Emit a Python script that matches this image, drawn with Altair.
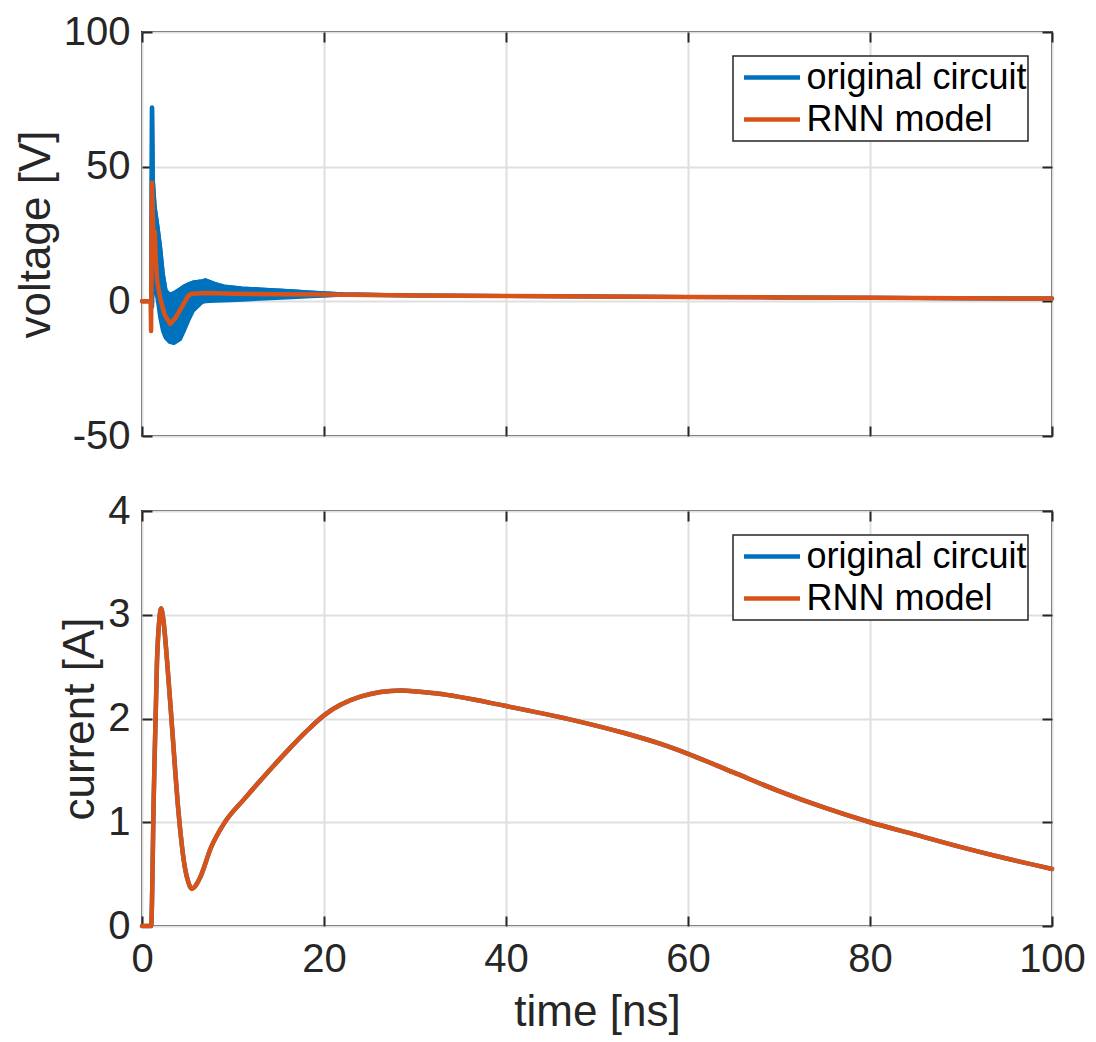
import altair as alt
import pandas as pd

# ---------------- data ----------------
# top panel: RNN model voltage
t_rnn_v = [0, 0.95, 1.0, 1.1, 1.2, 1.3, 1.4, 1.5, 1.65, 2.0, 2.5, 3.1, 3.7, 4.4, 5.1, 5.5, 7.0,
           10, 15, 20, 30, 40, 50, 60, 70, 80, 90, 100]
v_rnn = [0, 0, -11, 44, 30, 22, 26, 16, 8, 1, -5, -8.4, -6, -2, 2.2, 2.8, 3.1,
         2.8, 2.6, 2.5, 2.2, 2.0, 1.8, 1.6, 1.45, 1.3, 1.15, 1.05]

# top panel: original circuit voltage (fast ringing shown by its envelope)
t_orig_v = [0, 1.0, 1.08, 1.12, 1.2, 1.4, 1.7, 2.0, 2.3, 2.6, 3.0, 3.5, 4.2, 4.6, 5.1, 5.6,
            6.6, 7.0, 8.0, 9.0, 11, 13, 16.5, 18.5, 20, 22, 30, 40, 50, 60, 70, 80, 90, 100]
v_orig_upper = [0, 0, 72, 72, 45, 35, 28, 20, 10, 4, 2.5, 3, 4.5, 5.5, 6.3, 7,
                7.5, 7.8, 6.5, 5.5, 4.8, 4.4, 3.7, 3.3, 3.0, 2.6, 2.2, 2.0, 1.8, 1.6, 1.45, 1.3, 1.15, 1.05]
v_orig_lower = [0, 0, -2, -2, 6, 6, 1, -6, -11, -13.5, -15, -15.5, -14, -11, -7, -3.5,
                -0.3, 0, 0.2, 0.3, 0.6, 1.0, 1.5, 1.9, 2.1, 2.4, 2.2, 2.0, 1.8, 1.6, 1.45, 1.3, 1.15, 1.05]

# bottom panel: current (both curves coincide)
t_cur = [0, 1.0, 1.3, 1.65, 1.9, 2.1, 2.35, 2.75, 3.3, 4.0, 4.7, 5.1, 5.45, 5.9, 6.4, 7.6, 9.1,
         11.3, 13.8, 16.0, 18.0, 20, 24, 28.4, 32.4, 40, 47.6, 53, 57, 60, 65, 70,
         75, 80, 85, 90, 95, 100]
i_orig = [0, 0, 1.28, 2.56, 2.95, 3.06, 2.95, 2.56, 1.92, 1.11, 0.57, 0.42, 0.36, 0.39, 0.47,
          0.76, 1.0, 1.23, 1.48, 1.69, 1.87, 2.03, 2.21, 2.27, 2.24, 2.12, 1.98, 1.86, 1.755, 1.66,
          1.48, 1.30, 1.14, 1.0, 0.88, 0.76, 0.65, 0.55]
i_rnn = list(i_orig)

x_ticks = [0, 20, 40, 60, 80, 100]
v_ticks = [-50, 0, 50, 100]
i_ticks = [0, 1, 2, 3, 4]
series_names = ["original circuit", "RNN model"]
series_colors = ["#0072BD", "#D95319"]

TXT = "#262626"
FONT = "Liberation Sans"
TICK_IN = 10
PLOT_W = 910
LABEL_EXPR = "'' + datum.value"   # plain hyphen minus, as in the reference

# ---------------- tables ----------------
df_env = pd.DataFrame({"t": t_orig_v, "hi": v_orig_upper, "lo": v_orig_lower,
                       "series": series_names[0]})
df_vo = pd.DataFrame({"t": t_orig_v, "v": v_orig_upper, "series": series_names[0]})
df_vr = pd.DataFrame({"t": t_rnn_v, "v": v_rnn, "series": series_names[1]})
df_io = pd.DataFrame({"t": t_cur, "v": i_orig, "series": series_names[0]})
df_ir = pd.DataFrame({"t": t_cur, "v": i_rnn, "series": series_names[1]})


def color_enc():
    return alt.Color(
        "series:N",
        scale=alt.Scale(domain=series_names, range=series_colors),
        legend=alt.Legend(title=None, orient="top-right", offset=24),
    )


def main_x(show_labels):
    if show_labels:
        return alt.Axis(orient="bottom", values=x_ticks, offset=-TICK_IN, tickSize=TICK_IN,
                        labelPadding=13, labelFlush=False, grid=True, titlePadding=11,
                        labelExpr=LABEL_EXPR)
    return alt.Axis(orient="bottom", values=x_ticks, offset=-TICK_IN, tickSize=TICK_IN,
                    labels=False, grid=True)


def main_y(vals):
    return alt.Axis(orient="left", values=vals, offset=-TICK_IN, tickSize=TICK_IN,
                    labelPadding=12, grid=True, titlePadding=5, labelExpr=LABEL_EXPR)


def top_x():
    return alt.Axis(orient="top", values=x_ticks, offset=-TICK_IN, tickSize=TICK_IN,
                    labels=False, grid=False)


def right_y(vals):
    return alt.Axis(orient="right", values=vals, offset=-TICK_IN, tickSize=TICK_IN,
                    labels=False, grid=False)


xs = alt.Scale(domain=[0, 100], nice=False, zero=False)
ys_v = alt.Scale(domain=[-50, 100], nice=False, zero=False)
ys_i = alt.Scale(domain=[0, 4], nice=False, zero=False)

# ---------------- top panel ----------------
env = alt.Chart(df_env).mark_area(
    color=series_colors[0], stroke=series_colors[0], strokeWidth=4, strokeJoin="round", opacity=1
).encode(
    x=alt.X("t:Q", scale=xs, axis=main_x(False), title=None),
    y=alt.Y("hi:Q", scale=ys_v, axis=main_y(v_ticks), title="voltage [V]"),
    y2="lo:Q",
)
vo = alt.Chart(df_vo).mark_line(strokeWidth=4, strokeJoin="round", strokeCap="round").encode(
    x=alt.X("t:Q", scale=xs, axis=top_x(), title=None),
    y=alt.Y("v:Q", scale=ys_v, axis=right_y(v_ticks), title=None),
    color=color_enc(),
)
vr = alt.Chart(df_vr).mark_line(strokeWidth=4.5, strokeJoin="round", strokeCap="round").encode(
    x=alt.X("t:Q", scale=xs, axis=None),
    y=alt.Y("v:Q", scale=ys_v, axis=None),
    color=color_enc(),
)
top = alt.layer(env, vo, vr).resolve_scale(x="independent", y="independent").properties(
    width=PLOT_W, height=404
)

# ---------------- bottom panel ----------------
io = alt.Chart(df_io).mark_line(strokeWidth=4.5, strokeJoin="round", strokeCap="round",
                                interpolate="monotone").encode(
    x=alt.X("t:Q", scale=xs, axis=main_x(True), title="time [ns]"),
    y=alt.Y("v:Q", scale=ys_i, axis=main_y(i_ticks), title="current [A]"),
    color=color_enc(),
)
ir = alt.Chart(df_ir).mark_line(strokeWidth=4.5, strokeJoin="round", strokeCap="round",
                                interpolate="monotone").encode(
    x=alt.X("t:Q", scale=xs, axis=top_x(), title=None),
    y=alt.Y("v:Q", scale=ys_i, axis=right_y(i_ticks), title=None),
    color=color_enc(),
)
bottom = alt.layer(io, ir).resolve_scale(x="independent", y="independent").properties(
    width=PLOT_W, height=415
)

chart = alt.vconcat(top, bottom, spacing=33).resolve_scale(color="independent").resolve_legend(
    color="independent"
).properties(
    padding={"left": 5, "top": 3, "right": 0, "bottom": 0}
).configure_axis(
    labelFont=FONT, labelFontSize=40, labelColor=TXT,
    titleFont=FONT, titleFontSize=44, titleFontWeight="normal", titleColor=TXT,
    gridColor="#dfdfdf", gridWidth=2, tickColor=TXT, tickWidth=2, domain=False,
).configure_view(
    stroke=TXT, strokeWidth=2
).configure_legend(
    strokeColor=TXT, strokeWidth=1.5, fillColor="white", padding=0.5, cornerRadius=0,
    labelFont=FONT, labelFontSize=36, labelColor="#000000", labelLimit=400,
    symbolType="stroke", symbolStrokeWidth=4.5, symbolSize=3136, rowPadding=0,
    clipHeight=42, labelOffset=4, symbolOffset=8,
)

chart.save("out.html", embed_options={"renderer": "svg", "actions": False})
